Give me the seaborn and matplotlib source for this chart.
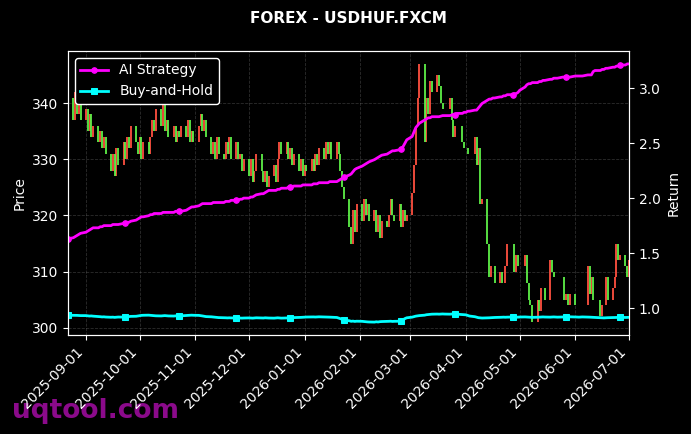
import matplotlib
matplotlib.use("Agg")
import matplotlib.pyplot as plt
import matplotlib.dates as mdates
import seaborn as sns
import pandas as pd
import numpy as np

nan = np.nan

# trading days (weekdays) of the chart
start_date = "2025-08-22"
end_date = "2026-07-01"
first_open = 337

# daily closes, one row per week (nan = no quote that day)
closes = [
    341,
    337, 342, 338, 340, 337,
    339, 335, 338, 334, 336,
    333, 335, 332, 334, 331,
    328, 331, 327, 332, 329,
    333, 330, 334, 332, 336,
    333, 331, 334, 330, 333,
    331, 334, 337, 335, 339,
    336, 340, 335, 337, 334,
    336, 333, 335, 334, 336,
    334, 337, 333, 335, 333,
    336, 338, 335, 337, 334,
    331, 333, 330, 334, 331,
    330, 333, 331, 334, 330,
    333, 330, 331, 328, 330,
    327, 330, 326, 328, 331,
    328, 326, 328, 325, 327,
    329, 326, 330, 333, 331,
    333, 330, 332, 329, 331,
    328, 330, 327, 329, 328,
    330, 328, 331, 329, 332,
    330, 333, 331, 333, 330,
    333, 331, 328, 325, 323,
    318, 315, 321, 317, 322,
    319, 323, 320, 322, 319,
    321, 317, 320, 316, 319,
    318, 320, 323, 320, 319,
    322, 318, 321, 319, 320,
    324, 329, 336, 341, 347,
    333, 341, 338, 344, 342,
    345, 343, 340, 339, nan,
    341, 337, 334, 336, nan,
    333, 332, nan, 331, nan,
    334, 329, 332, 322, 323,
    315, 309, 311, nan, 308,
    310, 308, nan, 311, 315,
    nan, 310, 313, 311, nan,
    313, 308, 305, 304, 301,
    305, 303, 307, nan, 305,
    312, 310, 309, nan, nan,
    309, 305, 306, 304, 306,
    304, nan, nan, nan, nan,
    311, 306, 309, 305, nan,
    302, 304, nan, 309, 305,
    307, 309, 315, 312, 313,
    311, 309, 312,
]

# cumulative return of the AI strategy
ai_strategy = [
    1.63,
    1.64, 1.65, 1.66, 1.67, 1.68,
    1.69, 1.70, 1.71, 1.72, 1.73,
    1.73, 1.74, 1.74, 1.75, 1.75,
    1.75, 1.76, 1.76, 1.76, 1.76,
    1.77, 1.77, 1.78, 1.78, 1.79,
    1.80, 1.81, 1.82, 1.83, 1.83,
    1.84, 1.85, 1.85, 1.86, 1.86,
    1.86, 1.87, 1.87, 1.87, 1.87,
    1.87, 1.88, 1.88, 1.88, 1.88,
    1.89, 1.90, 1.91, 1.92, 1.92,
    1.93, 1.94, 1.95, 1.95, 1.95,
    1.95, 1.96, 1.96, 1.96, 1.96,
    1.96, 1.97, 1.97, 1.97, 1.98,
    1.98, 1.98, 1.99, 1.99, 2.00,
    2.00, 2.01, 2.01, 2.02, 2.03,
    2.04, 2.04, 2.05, 2.06, 2.07,
    2.07, 2.07, 2.08, 2.08, 2.09,
    2.09, 2.10, 2.10, 2.10, 2.11,
    2.11, 2.11, 2.12, 2.12, 2.12,
    2.12, 2.13, 2.13, 2.13, 2.14,
    2.14, 2.14, 2.14, 2.15, 2.15,
    2.15, 2.16, 2.17, 2.18, 2.19,
    2.21, 2.22, 2.24, 2.26, 2.27,
    2.29, 2.30, 2.31, 2.32, 2.33,
    2.35, 2.36, 2.37, 2.38, 2.39,
    2.40, 2.41, 2.42, 2.43, 2.43,
    2.44, 2.45, 2.47, 2.50, 2.53,
    2.56, 2.60, 2.64, 2.66, 2.68,
    2.71, 2.72, 2.73, 2.73, 2.74,
    2.74, 2.74, 2.745, 2.75, 2.75,
    2.75, 2.755, 2.76, 2.76, 2.77,
    2.77, 2.78, 2.78, 2.79, 2.79,
    2.80, 2.80, 2.82, 2.84, 2.86,
    2.89, 2.90, 2.90, 2.91, 2.91,
    2.92, 2.92, 2.93, 2.93, 2.94,
    2.94, 2.95, 2.95, 2.96, 2.98,
    3.01, 3.03, 3.04, 3.04, 3.05,
    3.05, 3.06, 3.06, 3.07, 3.07,
    3.08, 3.08, 3.09, 3.09, 3.09,
    3.10, 3.10, 3.10, 3.10, 3.10,
    3.11, 3.11, 3.11, 3.11, 3.11,
    3.12, 3.12, 3.12, 3.15, 3.16,
    3.16, 3.17, 3.17, 3.18, 3.18,
    3.19, 3.19, 3.20, 3.20, 3.21,
    3.21, 3.22, 3.22,
]

# cumulative return of buy-and-hold
buy_and_hold = [
    0.935,
    0.935, 0.936, 0.934, 0.933, 0.932,
    0.932, 0.930, 0.928, 0.929, 0.927,
    0.924, 0.922, 0.920, 0.921, 0.919,
    0.917, 0.918, 0.916, 0.918, 0.919,
    0.918, 0.920, 0.922, 0.924, 0.925,
    0.926, 0.929, 0.932, 0.934, 0.935,
    0.936, 0.935, 0.933, 0.931, 0.930,
    0.929, 0.931, 0.932, 0.930, 0.929,
    0.928, 0.930, 0.931, 0.929, 0.930,
    0.932, 0.934, 0.935, 0.936, 0.935,
    0.934, 0.932, 0.929, 0.926, 0.923,
    0.921, 0.919, 0.917, 0.916, 0.914,
    0.913, 0.912, 0.911, 0.912, 0.911,
    0.910, 0.911, 0.910, 0.909, 0.910,
    0.911, 0.910, 0.909, 0.911, 0.912,
    0.911, 0.910, 0.912, 0.911, 0.910,
    0.909, 0.911, 0.912, 0.910, 0.909,
    0.910, 0.911, 0.912, 0.913, 0.914,
    0.915, 0.916, 0.917, 0.918, 0.919,
    0.920, 0.920, 0.919, 0.920, 0.921,
    0.920, 0.919, 0.920, 0.918, 0.917,
    0.915, 0.910, 0.904, 0.898, 0.892,
    0.885, 0.880, 0.882, 0.879, 0.881,
    0.880, 0.878, 0.876, 0.875, 0.874,
    0.873, 0.876, 0.874, 0.877, 0.878,
    0.879, 0.880, 0.881, 0.879, 0.880,
    0.881, 0.885, 0.895, 0.905, 0.912,
    0.918, 0.923, 0.927, 0.930, 0.932,
    0.936, 0.940, 0.942, 0.944, 0.945,
    0.946, 0.945, 0.946, 0.947, 0.946,
    0.945, 0.946, 0.947, 0.946, 0.945,
    0.943, 0.941, 0.939, 0.934, 0.928,
    0.922, 0.917, 0.913, 0.911, 0.910,
    0.911, 0.912, 0.913, 0.914, 0.915,
    0.916, 0.917, 0.918, 0.917, 0.918,
    0.919, 0.918, 0.917, 0.918, 0.919,
    0.920, 0.919, 0.918, 0.917, 0.916,
    0.917, 0.918, 0.919, 0.920, 0.919,
    0.918, 0.919, 0.920, 0.919, 0.918,
    0.919, 0.920, 0.919, 0.920, 0.921,
    0.920, 0.919, 0.918, 0.919, 0.920,
    0.919, 0.918, 0.917, 0.916, 0.915,
    0.913, 0.912, 0.911, 0.912, 0.913,
    0.914, 0.915, 0.914, 0.915, 0.916,
    0.915, 0.916, 0.916,
]

dates = pd.bdate_range(start_date, end_date)
df = pd.DataFrame({
    "Date": dates,
    "Close": closes,
    "AI Strategy": ai_strategy,
    "Buy-and-Hold": buy_and_hold,
})
# open = last known close
df["Open"] = df["Close"].ffill().shift(1).fillna(first_open)

plt.style.use("dark_background")
fig, ax = plt.subplots(figsize=(6.91, 4.34), dpi=100)
fig.subplots_adjust(left=0.0984, right=0.9103, top=0.8825, bottom=0.2281)

# candles (red = up, green = down)
candles = df.dropna(subset=["Close"])
up = candles["Close"] >= candles["Open"]
ax.vlines(candles["Date"][up], candles["Open"][up], candles["Close"][up],
          color="#ff5040", linewidth=1.3)
ax.vlines(candles["Date"][~up], candles["Close"][~up], candles["Open"][~up],
          color="#5ef048", linewidth=1.3)

ax.set_ylabel("Price", color="white")
ax.grid(True, linestyle="--", color="gray", alpha=0.35, linewidth=0.6)
ax.set_xlim(dates[0], dates[-1])
ax.xaxis.set_major_locator(mdates.MonthLocator())
ax.xaxis.set_major_formatter(mdates.DateFormatter("%Y-%m-%d"))
plt.setp(ax.get_xticklabels(), rotation=45, ha="right")

# returns on the second axis
ax2 = ax.twinx()
sns.lineplot(data=df, x="Date", y="AI Strategy", ax=ax2, color="#ff00ff",
             linewidth=2.0, marker="o", markersize=4, markevery=22,
             markeredgecolor="#ff00ff", label="AI Strategy")
sns.lineplot(data=df, x="Date", y="Buy-and-Hold", ax=ax2, color="#00ffff",
             linewidth=2.0, marker="s", markersize=4, markevery=22,
             markeredgecolor="#00ffff", label="Buy-and-Hold")
ax2.set_ylabel("Return", color="white")
ax2.set_xlabel("")
ax.set_xlabel("")
ax2.legend(loc="upper left", facecolor="black", edgecolor="white",
           framealpha=1, fontsize=10)

for a in (ax, ax2):
    for s in a.spines.values():
        s.set_color("white")

ax.set_title("FOREX - USDHUF.FXCM", fontsize=11, fontweight="bold",
             color="white", pad=20)

fig.text(0.017, 0.037, "uqtool.com", fontsize=19, fontweight="bold",
         color="#8b0a8b", zorder=-1)

fig.savefig("out.png", dpi=100, facecolor="black")
